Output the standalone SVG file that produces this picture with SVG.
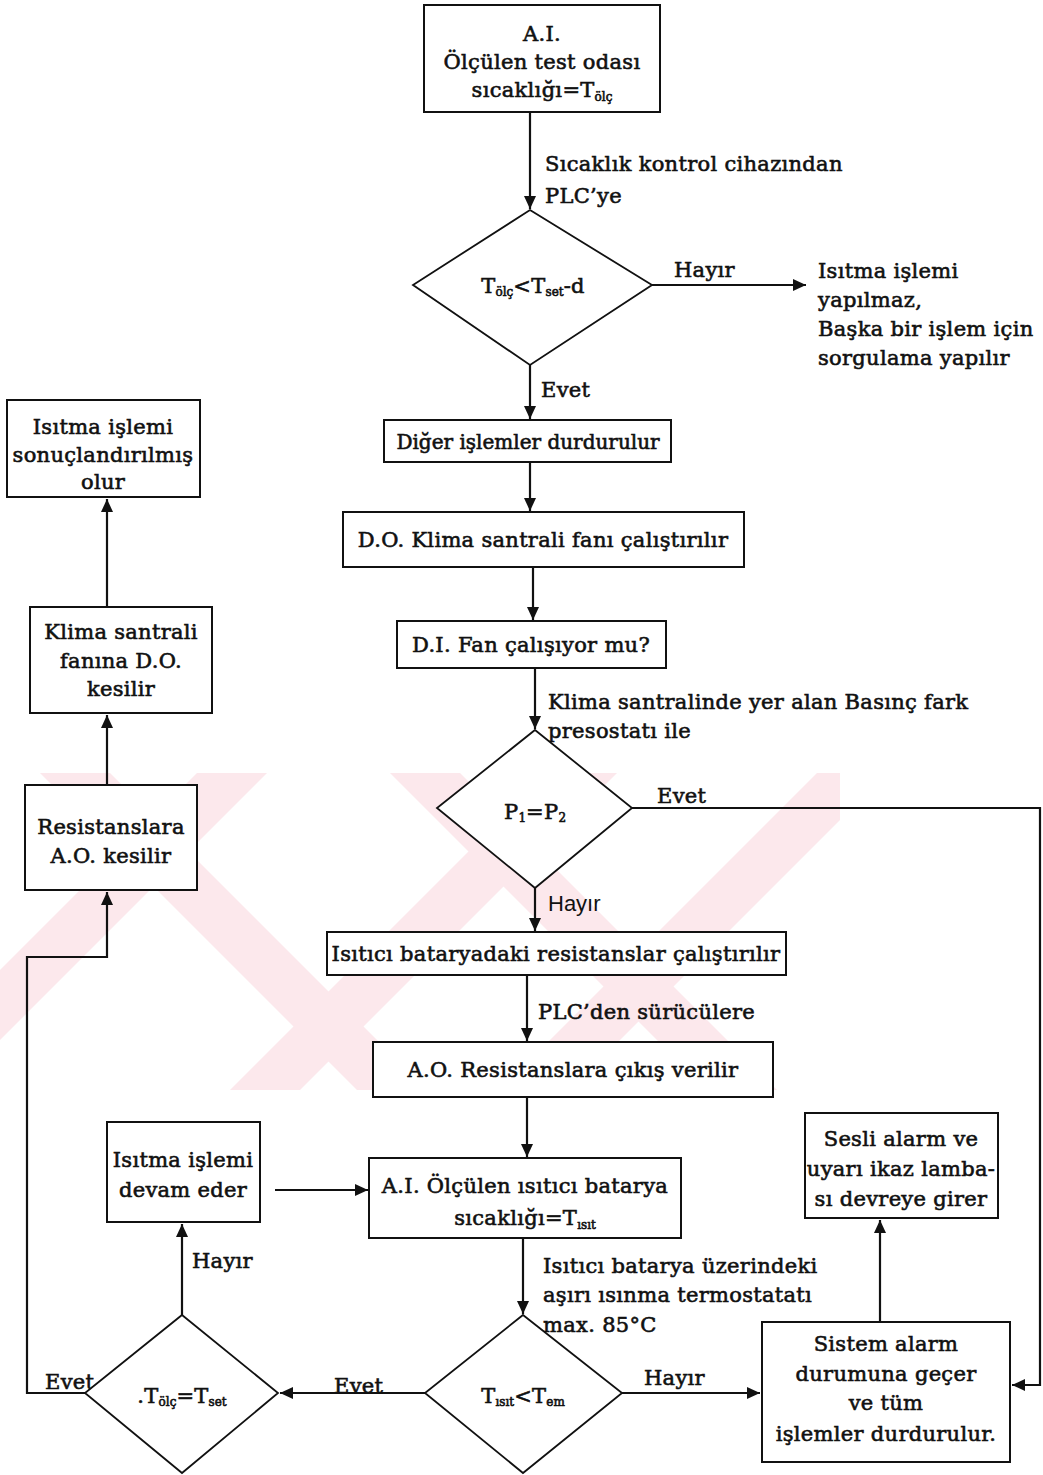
<svg xmlns="http://www.w3.org/2000/svg" width="1043" height="1475" viewBox="0 0 1043 1475">
<style>
.box{fill:#fff;stroke:#111;stroke-width:2}
.dia{fill:#fff;stroke:#111;stroke-width:1.8}
.t{font-family:"DejaVu Serif","Liberation Serif",serif;font-size:21px;letter-spacing:0.3px;fill:#111;stroke:#111;stroke-width:0.6;text-anchor:middle}
.l{font-family:"DejaVu Serif","Liberation Serif",serif;font-size:21px;letter-spacing:0.3px;fill:#111;stroke:#111;stroke-width:0.6}
.s{font-family:"Liberation Sans",Arial,sans-serif;font-size:22px;fill:#111}
.sub{font-size:12px;letter-spacing:0}
.c{fill:none;stroke:#111;stroke-width:2.2;marker-end:url(#ah)}
.wm{fill:#fce8ec}
</style>
<defs>
<marker id="ah" markerUnits="userSpaceOnUse" markerWidth="14" markerHeight="12" refX="13" refY="6" orient="auto">
<path d="M0,0 L13,6 L0,12 z" fill="#111"/>
</marker>
<clipPath id="wmclip"><path d="M0,773 H840 V1090 H0 z"/></clipPath>
</defs>
<rect width="1043" height="1475" fill="#fff"/>
<g id="watermark" clip-path="url(#wmclip)">
<polygon class="wm" points="-120,1090 -50,1090 267,773 197,773"/>
<polygon class="wm" points="40,773 110,773 427,1090 357,1090"/>
<polygon class="wm" points="230,1090 300,1090 617,773 547,773"/>
<polygon class="wm" points="390,773 460,773 777,1090 707,1090"/>
<polygon class="wm" points="500,1090 570,1090 887,773 817,773"/>
</g>
<g id="connectors">
<path class="c" d="M530,112 V209"/>
<path class="c" d="M652,285 H806"/>
<path class="c" d="M530,365 V419"/>
<path class="c" d="M530,462 V511"/>
<path class="c" d="M533,567 V620"/>
<path class="c" d="M535,668 V729"/>
<path class="c" d="M535,888 V931"/>
<path class="c" d="M527,975 V1041"/>
<path class="c" d="M527,1097 V1157"/>
<path class="c" d="M523,1238 V1314"/>
<path class="c" d="M622,1393 H760"/>
<path class="c" d="M632,808 H1040 V1385 H1012"/>
<path class="c" d="M880,1322 V1220"/>
<path class="c" d="M425,1393 H280"/>
<path class="c" d="M182,1315 V1224"/>
<path class="c" d="M275,1190 H368"/>
<path class="c" d="M85,1393 H27 V957 H107 V892"/>
<path class="c" d="M107,785 V715"/>
<path class="c" d="M107,607 V499"/>
<text class="l" x="545" y="171">Sıcaklık kontrol cihazından</text>
<text class="l" x="545" y="203">PLC’ye</text>
<text class="l" x="674" y="277">Hayır</text>
<text class="l" x="541" y="397">Evet</text>
<text class="l" x="548" y="709">Klima santralinde yer alan Basınç fark</text>
<text class="l" x="548" y="738">presostatı ile</text>
<text class="l" x="657" y="803">Evet</text>
<text class="s" x="548" y="911">Hayır</text>
<text class="l" x="538" y="1019">PLC’den sürücülere</text>
<text class="l" x="543" y="1273">Isıtıcı batarya üzerindeki</text>
<text class="l" x="543" y="1302">aşırı ısınma termostatatı</text>
<text class="l" x="543" y="1332">max. 85°C</text>
<text class="l" x="644" y="1385">Hayır</text>
<text class="l" x="334" y="1393">Evet</text>
<text class="l" x="192" y="1268">Hayır</text>
<text class="l" x="45" y="1389">Evet</text>
</g>
<g id="n1"><rect class="box" x="424" y="5" width="236" height="107"/>
<text class="t" x="542" y="41">A.I.</text>
<text class="t" x="542" y="69">Ölçülen test odası</text>
<text class="t" x="542" y="97">sıcaklığı=T<tspan class="sub" dy="4">ölç</tspan></text></g>
<g id="n2"><polygon class="dia" points="530,210 652,285 530,365 413,285"/>
<text class="t" x="533" y="293">T<tspan class="sub" dy="3">ölç</tspan><tspan dy="-3">&lt;T</tspan><tspan class="sub" dy="3">set</tspan><tspan dy="-3">-d</tspan></text></g>
<g id="n3"><text class="l" x="818" y="278">Isıtma işlemi</text>
<text class="l" x="818" y="307">yapılmaz,</text>
<text class="l" x="818" y="336">Başka bir işlem için</text>
<text class="l" x="818" y="365">sorgulama yapılır</text></g>
<g id="n4"><rect class="box" x="384" y="420" width="287" height="42"/>
<text class="t" x="528" y="449" style="font-size:20px;letter-spacing:0">Diğer işlemler durdurulur</text></g>
<g id="n5"><rect class="box" x="343" y="512" width="401" height="55"/>
<text class="t" x="543" y="547">D.O. Klima santrali fanı çalıştırılır</text></g>
<g id="n6"><rect class="box" x="397" y="621" width="269" height="47"/>
<text class="t" x="531" y="652">D.I. Fan çalışıyor mu?</text></g>
<g id="n7"><polygon class="dia" points="535,730 632,808 535,888 437,808"/>
<text class="t" x="535" y="819">P<tspan class="sub" dy="3">1</tspan><tspan dy="-3">=P</tspan><tspan class="sub" dy="3">2</tspan></text></g>
<g id="n8"><rect class="box" x="327" y="932" width="459" height="43"/>
<text class="t" x="556" y="961">Isıtıcı bataryadaki resistanslar çalıştırılır</text></g>
<g id="n9"><rect class="box" x="373" y="1042" width="400" height="55"/>
<text class="t" x="573" y="1077">A.O. Resistanslara çıkış verilir</text></g>
<g id="n10"><rect class="box" x="369" y="1158" width="312" height="80"/>
<text class="t" x="525" y="1193">A.I. Ölçülen ısıtıcı batarya</text>
<text class="t" x="525" y="1225">sıcaklığı=T<tspan class="sub" dy="4">ısıt</tspan></text></g>
<g id="n11"><polygon class="dia" points="523,1315 622,1393 523,1473 425,1393"/>
<text class="t" x="523" y="1403">T<tspan class="sub" dy="3">ısıt</tspan><tspan dy="-3">&lt;T</tspan><tspan class="sub" dy="3">em</tspan></text></g>
<g id="n12"><rect class="box" x="762" y="1322" width="248" height="140"/>
<text class="t" x="886" y="1351">Sistem alarm</text>
<text class="t" x="886" y="1381">durumuna geçer</text>
<text class="t" x="886" y="1410">ve tüm</text>
<text class="t" x="886" y="1441">işlemler durdurulur.</text></g>
<g id="n13"><rect class="box" x="805" y="1113" width="193" height="105"/>
<text class="t" x="901" y="1146">Sesli alarm ve</text>
<text class="t" x="901" y="1176">uyarı ikaz lamba-</text>
<text class="t" x="901" y="1206">sı devreye girer</text></g>
<g id="n14"><polygon class="dia" points="182,1315 278,1393 182,1473 85,1393"/>
<text class="t" x="182" y="1403">.T<tspan class="sub" dy="3">ölç</tspan><tspan dy="-3">=T</tspan><tspan class="sub" dy="3">set</tspan></text></g>
<g id="n15"><rect class="box" x="107" y="1122" width="153" height="100"/>
<text class="t" x="183" y="1167">Isıtma işlemi</text>
<text class="t" x="183" y="1197">devam eder</text></g>
<g id="n16"><rect class="box" x="25" y="785" width="172" height="105"/>
<text class="t" x="111" y="834">Resistanslara</text>
<text class="t" x="111" y="863">A.O. kesilir</text></g>
<g id="n17"><rect class="box" x="30" y="607" width="182" height="106"/>
<text class="t" x="121" y="639">Klima santrali</text>
<text class="t" x="121" y="668">fanına D.O.</text>
<text class="t" x="121" y="696">kesilir</text></g>
<g id="n18"><rect class="box" x="7" y="400" width="193" height="97"/>
<text class="t" x="103" y="434">Isıtma işlemi</text>
<text class="t" x="103" y="462">sonuçlandırılmış</text>
<text class="t" x="103" y="489">olur</text></g>
</svg>
